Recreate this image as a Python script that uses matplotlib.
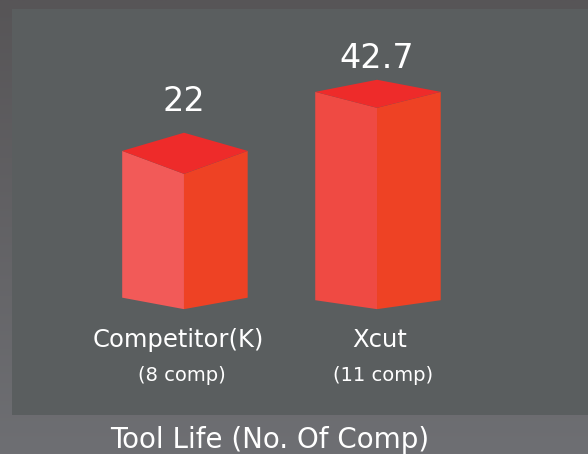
import matplotlib
matplotlib.use("Agg")
import matplotlib.pyplot as plt
import numpy as np
from matplotlib.patches import Polygon, Rectangle

categories = ["Competitor(K)", "Xcut"]
sub_labels = ["(8 comp)", "(11 comp)"]
values = [22, 42.7]
value_labels = ["22", "42.7"]
title = "Tool Life (No. Of Comp)"

plt.rcParams["font.family"] = ["DejaVu Sans"]

fig = plt.figure(figsize=(5.88, 4.54), dpi=100)

# background gradient
bg = fig.add_axes([0, 0, 1, 1], zorder=0)
bg.set_axis_off()
top = np.array([0x57, 0x55, 0x57]) / 255
bot = np.array([0x6e, 0x6f, 0x73]) / 255
t = np.linspace(0, 1, 256)[:, None]
grad = top[None, :] * (1 - t) + bot[None, :] * t
bg.imshow(grad[:, None, :], aspect="auto", extent=[0, 1, 0, 1])
bg.set_xlim(0, 1)
bg.set_ylim(0, 1)

# inner panel
W, H = 588, 454
panel = Rectangle((12 / W, 1 - 415 / H), 1, (415 - 9) / H,
                  transform=fig.transFigure, facecolor="#5a5e5f",
                  edgecolor="none", zorder=1)
fig.patches.append(panel)

ax = fig.add_axes([0, 0, 1, 1], zorder=2)
ax.patch.set_alpha(0)
ax.set_axis_off()
ax.set_xlim(-0.953, 2.093)
ax.set_ylim(-65.8, 76.5)

# styling (3D look)
hwl, hwr = 0.32, 0.33
side_up = [7.2, 5.0]
peak = [12.9, 8.8]
base = -20.4
bot_up = [3.6, 2.8]
label_gap = [6.8, 3.8]
cat_dx = [-0.03, 0.015]
sub_dx = [-0.01, 0.03]
left_cols = ["#f25a58", "#ef4a43"]
right_col = "#ee4224"
top_col = "#ee2b2a"

for i, v in enumerate(values):
    su, pk, bu = side_up[i], peak[i], bot_up[i]
    left = [(i - hwl, v + su), (i, v), (i, base), (i - hwl, base + bu)]
    right = [(i, v), (i + hwr, v + su), (i + hwr, base + bu), (i, base)]
    topf = [(i - hwl, v + su), (i, v), (i + hwr, v + su), (i, v + pk)]
    ax.add_patch(Polygon(left, closed=True, facecolor=left_cols[i], edgecolor="none"))
    ax.add_patch(Polygon(right, closed=True, facecolor=right_col, edgecolor="none"))
    ax.add_patch(Polygon(topf, closed=True, facecolor=top_col, edgecolor="none"))
    ax.text(i, v + pk + label_gap[i], value_labels[i], ha="center", va="baseline",
            color="white", fontsize=24)
    ax.text(i + cat_dx[i], -30.1, categories[i], ha="center", va="center",
            color="white", fontsize=17.5)
    ax.text(i + sub_dx[i], -41.2, sub_labels[i], ha="center", va="center",
            color="white", fontsize=14)

fig.text(270 / W, 1 - 440 / H, title, ha="center", va="center",
         color="white", fontsize=20)

fig.savefig("out.png", dpi=100)
